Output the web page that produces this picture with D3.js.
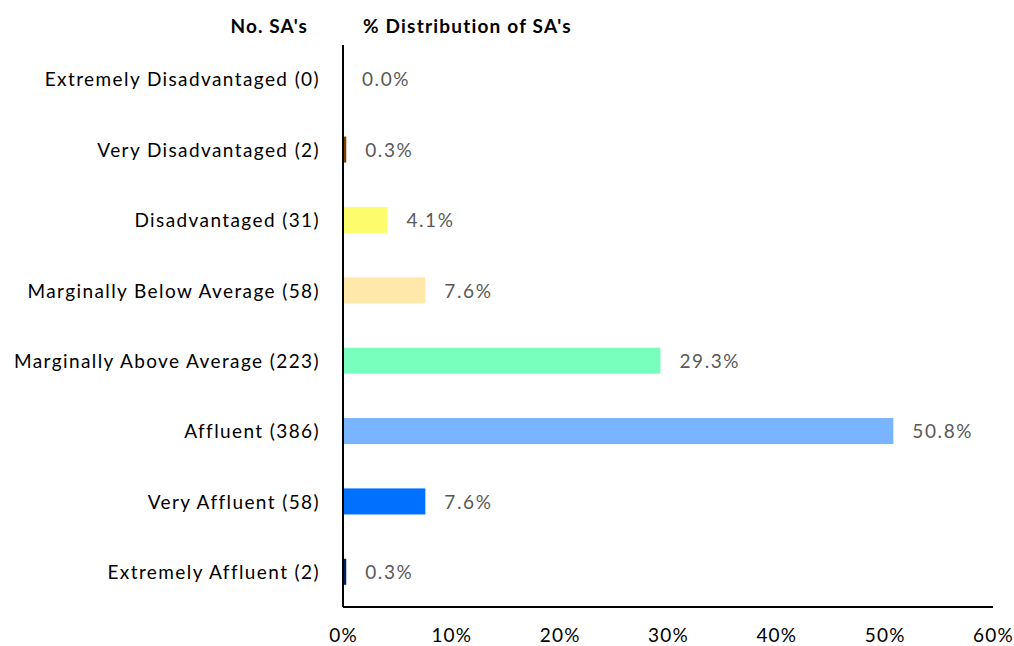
<!DOCTYPE html>
<html>
<head>
<meta charset="utf-8">
<script src="https://cdn.jsdelivr.net/npm/d3@7"></script>
<style>
  html, body { margin: 0; padding: 0; background: #fff; }
  svg { display: block; font-family: "Lato", "Open Sans", sans-serif; }
</style>
</head>
<body>
<svg id="chart" width="1014" height="646"></svg>
<script>
// Deprivation categories with the count of small areas in each
const categories = [
  "Extremely Disadvantaged (0)",
  "Very Disadvantaged (2)",
  "Disadvantaged (31)",
  "Marginally Below Average (58)",
  "Marginally Above Average (223)",
  "Affluent (386)",
  "Very Affluent (58)",
  "Extremely Affluent (2)"
];
// Share of small areas in each category (%)
const shares = [0.0, 0.3, 4.1, 7.6, 29.3, 50.8, 7.6, 0.3];
const barColors = ["#C00000", "#7F3F00", "#FCFC6C", "#FFE8AA", "#78FFBE", "#78B4FF", "#0070FF", "#002060"];
const xTicks = [0, 10, 20, 30, 40, 50, 60];

const svg = d3.select("#chart");
const plotLeft = 343, plotRight = 993, plotTop = 44, plotBottom = 607;
const fontSize = 19;

const x = d3.scaleLinear().domain([0, 60]).range([plotLeft, plotRight]);
const y = d3.scaleBand().domain(categories).range([plotTop, plotBottom])
  .paddingInner(0.63).paddingOuter(0.315);

// Bars
svg.append("g").selectAll("rect")
  .data(shares)
  .join("rect")
  .attr("x", x(0))
  .attr("y", (d, i) => y(categories[i]))
  .attr("width", d => x(d) - x(0))
  .attr("height", y.bandwidth())
  .attr("fill", (d, i) => barColors[i]);

// Value labels
svg.append("g").selectAll("text")
  .data(shares)
  .join("text")
  .attr("x", d => x(d) + 19)
  .attr("y", (d, i) => y(categories[i]) + y.bandwidth() / 2)
  .attr("dy", "0.38em")
  .attr("fill", "#595959")
  .attr("font-size", fontSize)
  .attr("letter-spacing", "1.6px")
  .text(d => d.toFixed(1) + "%");

// Category axis
const yAxis = svg.append("g")
  .attr("transform", `translate(${plotLeft},0)`)
  .call(d3.axisLeft(y).tickSize(0).tickPadding(23));
yAxis.select(".domain").attr("stroke", "#000").attr("stroke-width", 2)
  .attr("d", `M0,${plotTop + 1}V${plotBottom}`);
yAxis.selectAll("text").attr("font-size", fontSize).attr("fill", "#000")
  .attr("letter-spacing", "1.4px").attr("dy", "0.38em")
  .attr("font-family", "Lato, 'Open Sans', sans-serif");

// Percentage axis
const xAxis = svg.append("g")
  .attr("transform", `translate(0,${plotBottom})`)
  .call(d3.axisBottom(x).tickValues(xTicks).tickSize(0).tickPadding(22)
    .tickFormat(d => d + "%"));
xAxis.select(".domain").attr("stroke", "#000").attr("stroke-width", 2)
  .attr("d", `M${plotLeft},0H${plotRight}`);
xAxis.selectAll("text").attr("font-size", fontSize).attr("fill", "#000")
  .attr("letter-spacing", "1.2px")
  .attr("font-family", "Lato, 'Open Sans', sans-serif");

// Column headers
svg.append("text")
  .attr("x", 308).attr("y", 33)
  .attr("text-anchor", "end")
  .attr("font-weight", "bold").attr("font-size", fontSize)
  .attr("letter-spacing", "1.1px")
  .text("No. SA's");
svg.append("text")
  .attr("x", 363).attr("y", 33)
  .attr("font-weight", "bold").attr("font-size", fontSize)
  .attr("letter-spacing", "1.2px")
  .text("% Distribution of SA's");
</script>
</body>
</html>
